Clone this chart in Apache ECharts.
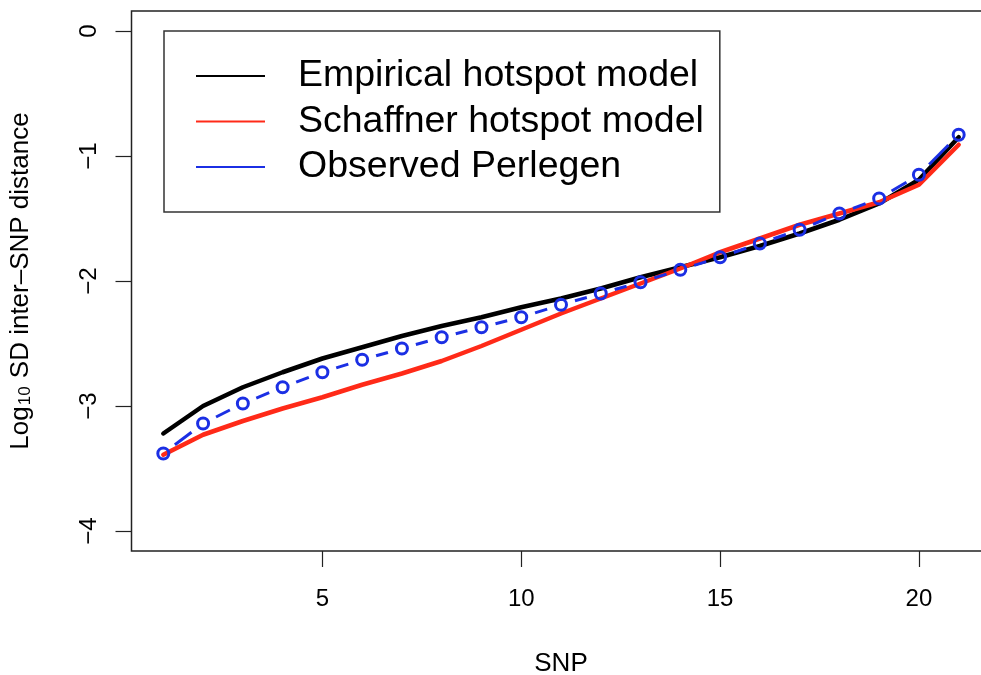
<!DOCTYPE html>
<html>
<head>
<meta charset="utf-8">
<script src="https://cdn.jsdelivr.net/npm/echarts@6/dist/echarts.min.js"></script>
<style>
  html, body { margin: 0; padding: 0; background: #fff; }
  #chart { width: 981px; height: 675px; }
</style>
</head>
<body>
<div id="chart"></div>
<script>
// SNP index along the x axis
const snp = [1, 2, 3, 4, 5, 6, 7, 8, 9, 10, 11, 12, 13, 14, 15, 16, 17, 18, 19, 20, 21];

// Log10 SD of inter-SNP distance per model
const empirical = [-3.22, -3.00, -2.85, -2.73, -2.62, -2.53, -2.44, -2.36, -2.29, -2.21, -2.14,
                   -2.06, -1.97, -1.89, -1.81, -1.72, -1.62, -1.51, -1.38, -1.19, -0.85];
const schaffner = [-3.39, -3.23, -3.12, -3.02, -2.93, -2.83, -2.74, -2.64, -2.52, -2.39, -2.26,
                   -2.14, -2.02, -1.90, -1.77, -1.66, -1.55, -1.46, -1.37, -1.23, -0.91];
const observed  = [-3.38, -3.14, -2.98, -2.85, -2.73, -2.63, -2.54, -2.45, -2.37, -2.29, -2.19,
                   -2.10, -2.01, -1.91, -1.81, -1.70, -1.59, -1.46, -1.34, -1.15, -0.83];

// Axis ticks
const xTicks = [5, 10, 15, 20];
const yTicks = [-4, -3, -2, -1, 0];

const seriesNames = ['Empirical hotspot model', 'Schaffner hotspot model', 'Observed Perlegen'];

const FONT = 'Liberation Sans, Arial, Helvetica, sans-serif';
const BLACK = '#000000';
const RED = '#ff2a18';
const BLUE = '#1b2fe4';

const pairs = (ys) => snp.map((x, i) => [x, ys[i]]);
// connector segments between consecutive observed points
const segments = snp.slice(0, -1).map((x, i) => [x, observed[i], snp[i + 1], observed[i + 1]]);

const minus = (v) => String(v).replace('-', '\u2212');

const chart = echarts.init(document.getElementById('chart'), null, { renderer: 'canvas' });

chart.setOption({
  animation: false,
  backgroundColor: '#ffffff',
  textStyle: { fontFamily: FONT },
  grid: {
    left: 131.5, top: 11, width: 859, height: 540,
    outerBoundsMode: 'none', containLabel: false,
    show: true, borderColor: '#222', borderWidth: 1.5, backgroundColor: 'transparent'
  },
  legend: {
    orient: 'vertical',
    left: 164, top: 31,
    padding: [26, 16, 26, 32],
    borderColor: '#333', borderWidth: 1.5,
    itemWidth: 69, itemHeight: 2, itemGap: 7.5,
    align: 'left',
    selectedMode: false,
    textStyle: { fontSize: 37.5, lineHeight: 37, color: '#000', fontFamily: FONT, padding: [0, 0, 0, 28] },
    data: seriesNames.map(n => ({ name: n, icon: 'rect' }))
  },
  xAxis: {
    type: 'value', min: 0.2, max: 21.8,
    name: 'SNP', nameLocation: 'middle', nameGap: 100,
    nameTextStyle: { fontSize: 26, color: '#000', fontFamily: FONT },
    splitLine: { show: false },
    axisLine: { show: false, onZero: false },
    axisTick: { show: true, length: 16, lineStyle: { color: '#222', width: 1.2 }, customValues: xTicks },
    axisLabel: { fontSize: 24, color: '#000', margin: 36, fontFamily: FONT, customValues: xTicks }
  },
  yAxis: {
    type: 'value', min: -4.16, max: 0.16,
    name: '{a|Log}{s|10}{a| SD inter\u2013SNP distance}',
    nameLocation: 'middle', nameGap: 95, nameRotate: 90,
    nameTextStyle: {
      fontFamily: FONT, color: '#000',
      rich: {
        a: { fontSize: 26, lineHeight: 32, fontFamily: FONT, color: '#000' },
        s: { fontSize: 17, lineHeight: 32, fontFamily: FONT, color: '#000', padding: [10, 1, 0, 1] }
      }
    },
    splitLine: { show: false },
    axisLine: { show: false, onZero: false },
    axisTick: { show: true, length: 16, lineStyle: { color: '#222', width: 1.2 }, customValues: yTicks },
    axisLabel: {
      fontSize: 24, color: '#000', margin: 30, rotate: 90, fontFamily: FONT,
      customValues: yTicks, formatter: minus
    }
  },
  series: [
    {
      name: seriesNames[0], type: 'line', data: pairs(empirical),
      color: BLACK, symbol: 'none', z: 2,
      lineStyle: { width: 4.5, color: BLACK, cap: 'round', join: 'round' }
    },
    {
      name: seriesNames[1], type: 'line', data: pairs(schaffner),
      color: RED, symbol: 'none', z: 3,
      lineStyle: { width: 4.5, color: RED, cap: 'round', join: 'round' }
    },
    {
      // dashed connectors that stop short of each open circle
      name: seriesNames[2], type: 'custom', data: segments, z: 4,
      color: BLUE, itemStyle: { color: BLUE },
      encode: { x: [0, 2], y: [1, 3] },
      renderItem: function (params, api) {
        const a = api.coord([api.value(0), api.value(1)]);
        const b = api.coord([api.value(2), api.value(3)]);
        const dx = b[0] - a[0], dy = b[1] - a[1];
        const len = Math.sqrt(dx * dx + dy * dy);
        const cut = 14.5;
        if (len <= 2 * cut) return null;
        const ux = dx / len, uy = dy / len;
        return {
          type: 'line',
          shape: { x1: a[0] + ux * cut, y1: a[1] + uy * cut, x2: b[0] - ux * cut, y2: b[1] - uy * cut },
          style: { stroke: BLUE, lineWidth: 3, lineCap: 'butt' }
        };
      }
    },
    {
      name: seriesNames[2], type: 'scatter', data: pairs(observed), z: 5,
      color: BLUE, symbol: 'circle', symbolSize: 11,
      itemStyle: { color: 'rgba(255,255,255,0)', borderColor: BLUE, borderWidth: 3, opacity: 1 }
    }
  ]
});
</script>
</body>
</html>
